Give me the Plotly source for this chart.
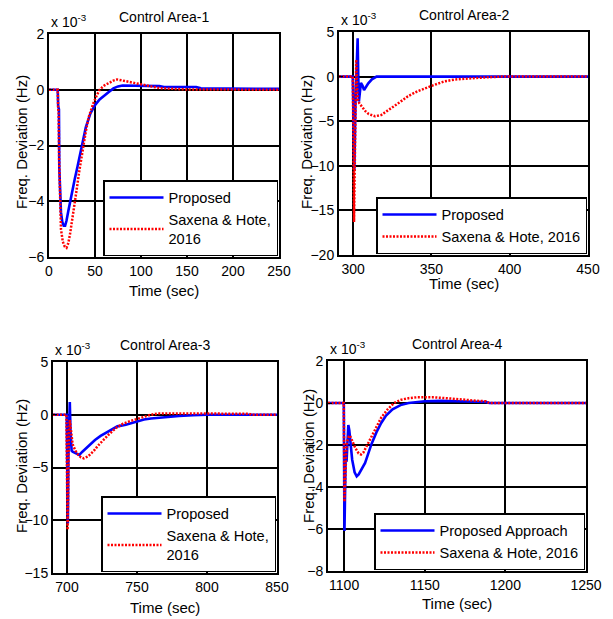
import plotly.graph_objects as go

# ---------------- data (frequency deviation in units of 1e-3 Hz) ----------------
# Control Area-1
t1_prop = [0, 9.5, 10, 10.8, 11.2, 12, 13, 14.5, 16, 17.5, 19, 21, 23, 25, 28, 31, 35, 40, 45, 50,
           55, 60, 65, 70, 75, 80, 100, 120, 125, 160, 165, 250]
f1_prop = [0, 0, -0.6, -0.7, -2.8, -3.8, -4.4, -4.75, -4.88, -4.88, -4.7, -4.35, -4.0, -3.7, -3.2, -2.75,
           -2.1, -1.35, -0.85, -0.55, -0.35, -0.2, -0.08, 0.05, 0.12, 0.15, 0.15, 0.13, 0.1, 0.1, 0.05, 0.03]
t1_sax = [0, 9.5, 10, 10.5, 11, 12, 13, 15, 17, 19, 21, 23, 25, 28, 30, 33, 37, 40, 43, 48, 52, 55,
          60, 65, 70, 74, 80, 90, 100, 110, 120, 130, 150, 250]
f1_sax = [0, 0, -0.7, -0.8, -2.5, -4.3, -5.0, -5.45, -5.62, -5.67, -5.5, -5.15, -4.75, -4.1, -3.6, -2.9,
          -2.05, -1.5, -1.0, -0.5, -0.2, 0.0, 0.15, 0.25, 0.33, 0.37, 0.33, 0.25, 0.17, 0.12, 0.06, 0.04,
          0.01, 0.0]

# Control Area-2
t2_prop = [291, 299.8, 300.3, 300.8, 301.5, 302.0, 302.5, 302.9, 303.3, 303.7, 305.0, 306.0, 307.0,
           308.5, 309.7, 312, 315, 450]
f2_prop = [0, 0, -5, -10.5, -3, 0.5, 3.5, 4.3, 0, -2.8, -0.7, -1.0, -1.5, -1.1, -0.75, -0.3, 0, 0]
t2_sax = [291, 299.8, 300.2, 300.6, 301.0, 301.5, 302.0, 302.5, 303.0, 304, 306, 308, 310, 314, 318,
          322, 326, 330, 335, 341, 350, 358, 365, 375, 385, 395, 450]
f2_sax = [0, 0, -8, -16.3, -11, -3, 1.9, -1, -2.5, -3.0, -3.5, -3.9, -4.2, -4.45, -4.3, -3.85, -3.3,
          -2.85, -2.2, -1.65, -1.05, -0.55, -0.33, -0.19, -0.08, 0, 0]

# Control Area-3
t3_prop = [690, 699.8, 700.2, 700.6, 701.0, 701.5, 702.0, 702.5, 703.3, 704, 706, 708.8, 711, 714, 717,
           720, 724, 730, 736, 742, 748, 755, 760, 770, 780, 790, 800, 850]
f3_prop = [0, 0, -5, -10.3, -4, 0.5, 1.2, -1.5, -3.4, -3.5, -3.6, -3.8, -3.5, -3.1, -2.7, -2.4, -2.0,
           -1.55, -1.1, -0.95, -0.7, -0.45, -0.35, -0.2, -0.12, -0.05, 0, 0]
t3_sax = [690, 699.6, 700.0, 700.4, 700.8, 701.3, 702, 703, 704, 706, 708, 710, 712, 715, 719, 722,
          726, 730, 735, 740, 745, 750, 755, 760, 765, 780, 800, 830, 832, 850]
f3_sax = [0, 0, -6, -10.9, -8, -2, -0.5, -1.8, -2.8, -3.4, -3.8, -4.05, -4.13, -3.95, -3.45, -2.95,
          -2.35, -1.85, -1.25, -0.85, -0.6, -0.38, -0.18, 0.0, 0.12, 0.12, 0.1, 0.1, 0, 0]

# Control Area-4
t4_prop = [1090, 1099.8, 1100.2, 1100.6, 1101.0, 1101.5, 1102.0, 1102.6, 1103.2, 1104, 1105, 1106.5,
           1107.8, 1109, 1111, 1113, 1115, 1117, 1120, 1123, 1126, 1130, 1135, 1140, 1150, 1160, 1175,
           1188, 1190, 1250]
f4_prop = [0, 0, -6.1, -3.5, -2.3, -2.8, -1.5, -1.05, -1.3, -2.0, -2.7, -3.3, -3.49, -3.4, -3.15, -2.85,
           -2.4, -1.95, -1.4, -0.95, -0.6, -0.3, -0.1, 0.0, 0.08, 0.1, 0.07, 0.05, 0, 0]
t4_sax = [1090, 1099.8, 1100.2, 1100.6, 1101.0, 1101.5, 1102.0, 1102.8, 1103.6, 1105, 1107, 1109,
          1110.5, 1112, 1114, 1117, 1120, 1123, 1127, 1131, 1135, 1140, 1145, 1150, 1156, 1165, 1172,
          1180, 1188, 1190, 1250]
f4_sax = [0, 0, -4.7, -3.5, -2.5, -2.0, -1.8, -1.6, -1.55, -1.8, -2.15, -2.4, -2.45, -2.35, -2.05, -1.55,
          -1.1, -0.7, -0.3, 0.0, 0.15, 0.23, 0.27, 0.28, 0.27, 0.22, 0.19, 0.12, 0.08, 0, 0]

titles = ["Control Area-1", "Control Area-2", "Control Area-3", "Control Area-4"]
prop_names = ["Proposed", "Proposed", "Proposed", "Proposed Approach"]
sax_names = ["Saxena & Hote,<br>2016", "Saxena & Hote, 2016", "Saxena & Hote,<br>2016", "Saxena & Hote, 2016"]
x_ranges = [[0, 250], [291, 450], [690, 850], [1090, 1250]]
x_ticks = [[0, 50, 100, 150, 200, 250], [300, 350, 400, 450], [700, 750, 800, 850], [1100, 1150, 1200, 1250]]
y_ranges = [[-6, 2], [-20, 5], [-15, 5], [-8, 2]]
y_ticks = [[-6, -4, -2, 0, 2], [-20, -15, -10, -5, 0, 5], [-15, -10, -5, 0, 5], [-8, -6, -4, -2, 0, 2]]

series = [(t1_prop, f1_prop, t1_sax, f1_sax), (t2_prop, f2_prop, t2_sax, f2_sax),
          (t3_prop, f3_prop, t3_sax, f3_sax), (t4_prop, f4_prop, t4_sax, f4_sax)]

# ---------------- layout helpers ----------------
W, H = 613, 619
FONT = "Arial, Liberation Sans, Helvetica, sans-serif"


def px(x):
    return x / W


def py(y):
    return 1 - y / H


# axes boxes in pixels: (left, right, top, bottom)
boxes = [(49, 279, 34, 257), (339, 588, 32, 255), (53, 277, 362, 573), (328, 586, 361, 571)]
xtitle_y = [290, 284, 607, 603]
ylab_x = [22, 307, 21, 308]
ylab_y = [142, 142, 466, 456]

fig = go.Figure()
layout = dict(width=W, height=H, margin=dict(l=0, r=0, t=0, b=0, autoexpand=False), plot_bgcolor="white",
              paper_bgcolor="white", font=dict(family=FONT, size=14, color="black"), showlegend=True)
annotations = []

for i in range(4):
    k = "" if i == 0 else str(i + 1)
    tp, fp, ts, fs = series[i]
    lg = "legend" if i == 0 else "legend" + str(i + 1)
    fig.add_trace(go.Scatter(x=tp, y=fp, mode="lines", name=prop_names[i], xaxis="x" + k, yaxis="y" + k,
                             legend=lg, line=dict(color="#0000FF", width=2.6)))
    fig.add_trace(go.Scatter(x=ts, y=fs, mode="lines", name=sax_names[i], xaxis="x" + k, yaxis="y" + k,
                             legend=lg, line=dict(color="#FF0000", width=2.5, dash="2px,1.5px")))
    l, r, t, b = boxes[i]
    axcommon = dict(showline=True, linecolor="black", linewidth=2, mirror=True, showgrid=True,
                    gridcolor="black", gridwidth=1.7, zeroline=False, ticks="inside", ticklen=4,
                    tickcolor="black", tickfont=dict(size=14, family=FONT, color="black"))
    layout["xaxis" + k] = dict(domain=[px(l), px(r)], range=x_ranges[i], tickvals=x_ticks[i],
                               anchor="y" + k, **axcommon)
    layout["yaxis" + k] = dict(domain=[py(b), py(t)], range=y_ranges[i], tickvals=y_ticks[i],
                               anchor="x" + k, **axcommon)
    layout[lg] = dict(x=px(r - 1), y=py(b - 1), xanchor="right", yanchor="bottom", bgcolor="white",
                      bordercolor="black", borderwidth=1.5, font=dict(size=14.6, family=FONT, color="black"),
                      tracegroupgap=0, itemwidth=54)
    cx = (l + r) / 2
    annotations.append(dict(text=titles[i], x=px(cx), y=py(t - 17), xref="paper", yref="paper",
                            showarrow=False, font=dict(size=14, family=FONT), xanchor="center",
                            yanchor="middle"))
    annotations.append(dict(text="x 10<sup>-3</sup>", x=px(l), y=py(t - 2), xref="paper", yref="paper",
                            showarrow=False, font=dict(size=14, family=FONT), xanchor="left",
                            yanchor="bottom"))
    annotations.append(dict(text="Time (sec)", x=px(cx), y=py(xtitle_y[i]), xref="paper",
                            yref="paper", showarrow=False, font=dict(size=15, family=FONT),
                            xanchor="center", yanchor="middle"))
    annotations.append(dict(text="Freq. Deviation (Hz)", x=px(ylab_x[i]), y=py(ylab_y[i]), xref="paper",
                            yref="paper", showarrow=False, font=dict(size=15, family=FONT), textangle=-90,
                            xanchor="center", yanchor="middle"))

layout["annotations"] = annotations
fig.update_layout(**layout)
fig.write_html("out.html", config={"displayModeBar": False},
               post_script="document.body.style.margin='0';document.body.style.padding='0';"
                           "document.body.style.overflow='hidden';")
